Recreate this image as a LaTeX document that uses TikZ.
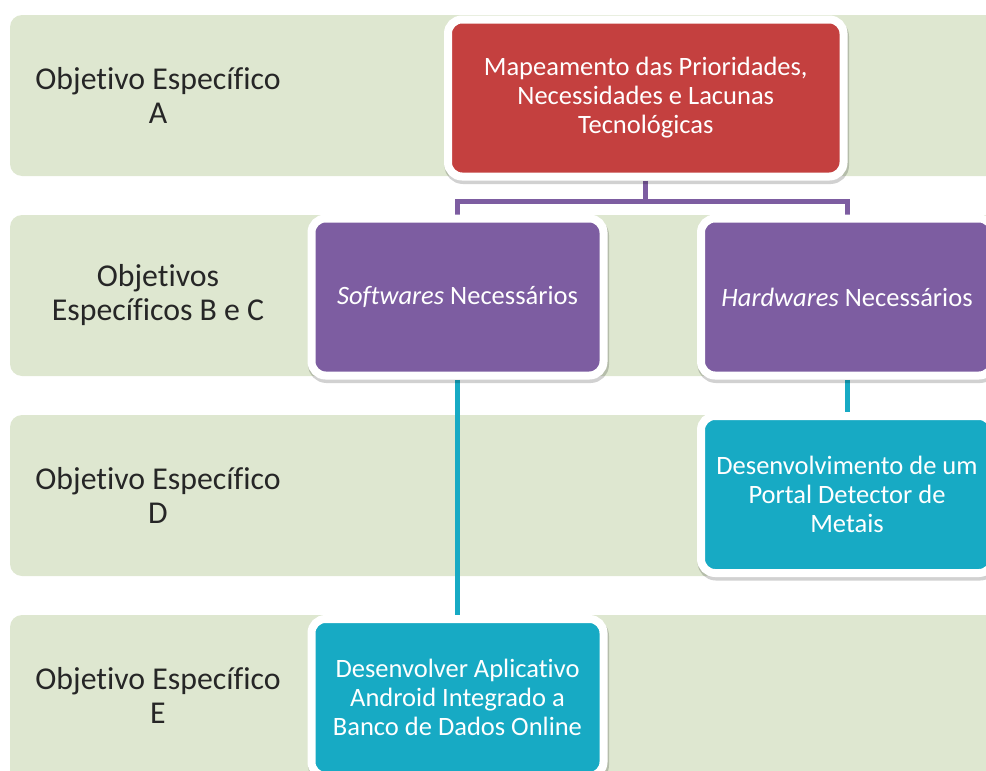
\documentclass[tikz,border=0pt]{standalone}
\usepackage{fontspec}
\setmainfont{Carlito}[Ligatures={NoCommon}]
\pgfdeclarelayer{bands}
\pgfdeclarelayer{links}
\pgfsetlayers{bands,links,main}
\definecolor{bandgreen}{RGB}{222,231,208}
\definecolor{boxred}{RGB}{196,64,63}
\definecolor{boxpurple}{RGB}{125,93,161}
\definecolor{boxteal}{RGB}{23,170,196}
\definecolor{labelgray}{RGB}{38,38,38}
\begin{document}
\begin{tikzpicture}[x=1pt,y=-1pt,
  band/.style={fill=bandgreen, rounded corners=12pt},
  rowlabel/.style={text=labelgray, align=center, inner sep=0pt,
    font=\fontsize{31.8}{34}\selectfont},
  card/.style={rectangle, rounded corners=14pt, draw=white, line width=8pt,
    text=white, align=center, inner sep=0pt,
    minimum width=292pt, minimum height=157pt,
    font=\fontsize{26.5}{29}\selectfont,
    preaction={draw=black, draw opacity=.18, line width=9pt,
      transform canvas={xshift=1pt, yshift=-3pt}}},
  redcard/.style={card, fill=boxred, minimum width=395.5pt},
  purplecard/.style={card, fill=boxpurple},
  tealcard/.style={card, fill=boxteal},
  purplelink/.style={draw=boxpurple, line width=5pt},
  teallink/.style={draw=boxteal, line width=5pt}]
\useasboundingbox (0,0) rectangle (986,771);

% horizontal bands, one per objective
\begin{pgfonlayer}{bands}
  \fill[band] (10,15)  rectangle (1010,176);
  \fill[band] (10,215) rectangle (1010,376);
  \fill[band] (10,415) rectangle (1010,576);
  \fill[band] (10,615) rectangle (1010,800);
\end{pgfonlayer}

% row labels
\node[rowlabel] (labA) at (158,95)  {Objetivo Específico\\A};
\node[rowlabel] (labBC) at (158,295) {Objetivos\\Específicos B e C};
\node[rowlabel] (labD) at (158,495) {Objetivo Específico\\D};
\node[rowlabel] (labE) at (158,695) {Objetivo Específico\\E};

% cards
\node[redcard] (map) at (645.75,98)
  {Mapeamento das Prioridades,\\Necessidades e Lacunas\\Tecnológicas};
\node[purplecard] (soft) at (457.5,297) {\textit{Softwares} Necessários};
\node[purplecard] (hard) at (847,297) {\textit{Hardwares} Necessários};
\node[tealcard] (portal) at (847,494.5)
  {Desenvolvimento de um\\Portal Detector de\\Metais};
\node[tealcard] (app) at (457.5,697.5)
  {Desenvolver Aplicativo\\Android Integrado a\\Banco de Dados Online};

% connectors
\begin{pgfonlayer}{links}
  \draw[purplelink] (map.south) -- ++(0,21) -| (soft.north);
  \draw[purplelink] (map.south) -- ++(0,21) -| (hard.north);
  \draw[teallink] (soft.south) -- (app.north);
  \draw[teallink] (hard.south) -- (portal.north);
\end{pgfonlayer}
\end{tikzpicture}
\end{document}
